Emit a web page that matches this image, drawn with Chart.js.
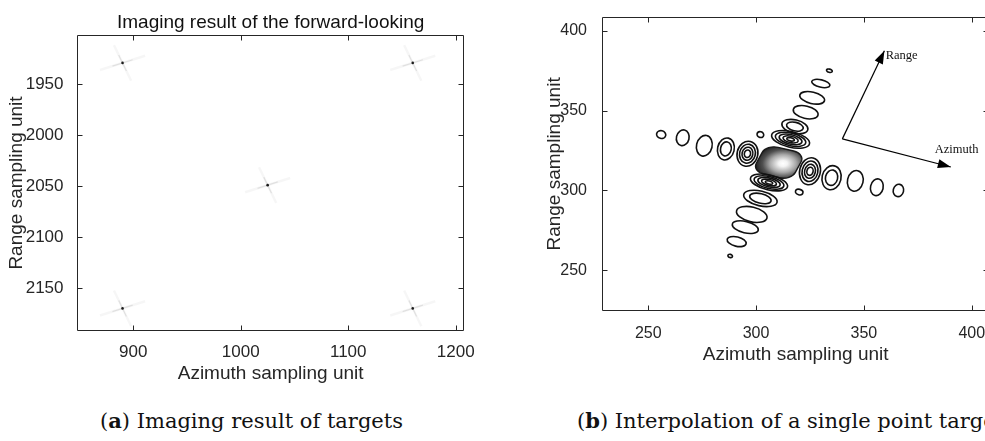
<!DOCTYPE html>
<html>
<head>
<meta charset="utf-8">
<script src="https://cdn.jsdelivr.net/npm/chart.js@4.4.1/dist/chart.umd.min.js"></script>
<style>
  html, body { margin: 0; padding: 0; background: #fff; overflow: hidden; }
  body { width: 985px; height: 441px; position: relative; }
  #left-wrap { position: absolute; left: 0; top: 0; width: 490px; height: 400px; }
  #right-wrap { position: absolute; left: 540px; top: 0; width: 470px; height: 400px; }
  .caption { position: absolute; top: 408px; font-family: 'DejaVu Serif', serif; font-size: 21px; color: #111; white-space: nowrap; }
</style>
</head>
<body>
<div id="left-wrap"><canvas id="left-chart" width="490" height="400"></canvas></div>
<div id="right-wrap"><canvas id="right-chart" width="470" height="400"></canvas></div>
<div class="caption" style="left:100px">(<b>a</b>) Imaging result of targets</div>
<div class="caption" style="left:577px">(<b>b</b>) Interpolation of a single point target</div>
<script>
// (a) point targets of the forward-looking scene
const targetAz = [890, 1160, 1025, 890, 1160];
const targetRg = [1929, 1929, 2049, 2170, 2170];
// half extent of the cross-shaped sidelobes (azimuth, range)
const rangeArm = [8, 17.5];
const azimuthArm = [21, -7];
const leftXTicks = [900, 1000, 1100, 1200];
const leftYTicks = [1950, 2000, 2050, 2100, 2150];

// (b) single target after interpolation
const mainLobe = [310.5, 317.5];
const mainHalf = [9.5, 9.0];
// directions of the two sidelobe lines in sampling units
const azimuthAxis = [110, -35];
const rangeAxis = [46, 116];
// sidelobe contours: centre, half width along the azimuth line / across it, number of rings
const lobeAz = [256, 266, 276, 286, 296, 325, 335, 346, 356, 366,
                334, 330, 326, 323, 318, 316, 306, 302, 298, 295, 291, 288,
                302, 320];
const lobeRg = [335, 333, 328, 326, 323, 312, 308, 306, 302, 300,
                375, 367, 358, 349, 340, 332, 305, 295, 285, 277, 268, 259,
                335, 299];
const lobeHalfAz = [2.2, 3.0, 3.7, 3.95, 4.9, 4.9, 4.5, 3.7, 3.0, 2.45,
                    1.4, 4.4, 6.0, 6.0, 6.3, 9.2, 9.0, 8.1, 7.4, 6.3, 4.6, 1.1,
                    1.6, 1.8];
const lobeHalfRg = [2.3, 4.7, 6.2, 6.6, 7.5, 8.1, 7.2, 6.2, 5.0, 3.7,
                    0.95, 2.2, 3.4, 3.7, 4.0, 4.7, 4.4, 4.4, 4.4, 3.4, 2.8, 0.95,
                    1.7, 1.65];
const lobeRings = [1, 1, 1, 2, 4, 4, 2, 1, 1, 1,
                   1, 1, 1, 1, 2, 5, 5, 2, 1, 1, 1, 1,
                   1, 1];
// direction arrows
const arrowNames = ['Range', 'Azimuth'];
const arrowFrom = [340, 332.3];
const arrowTipAz = [359.5, 390.3];
const arrowTipRg = [387.5, 314.7];
const arrowLabelAz = [360.1, 393.0];
const arrowLabelRg = [384.4, 325.3];
const rightXTicks = [250, 300, 350, 400];
const rightYTicks = [250, 300, 350, 400];

const axisColor = '#262626';
const sans = 'Liberation Sans';

// MATLAB style box with inward ticks
const framePlugin = {
    id: 'frame',
    afterDraw(chart) {
        const { ctx, chartArea: a, scales: { x, y } } = chart;
        const L = Math.round(a.left) + 0.5, R = Math.round(a.right) - 0.5;
        const T = Math.round(a.top) + 0.5, B = Math.round(a.bottom) - 0.5;
        ctx.save();
        ctx.strokeStyle = axisColor;
        ctx.lineWidth = 1;
        ctx.beginPath();
        ctx.rect(L, T, R - L, B - T);
        x.ticks.forEach(t => {
            const p = Math.round(x.getPixelForValue(t.value)) + 0.5;
            ctx.moveTo(p, B); ctx.lineTo(p, B - 5);
            ctx.moveTo(p, T); ctx.lineTo(p, T + 5);
        });
        y.ticks.forEach(t => {
            const p = Math.round(y.getPixelForValue(t.value)) + 0.5;
            ctx.moveTo(L, p); ctx.lineTo(L + 5, p);
            ctx.moveTo(R, p); ctx.lineTo(R - 5, p);
        });
        ctx.stroke();
        ctx.restore();
    }
};

function armDataset(arm, frac, color, width) {
    const pts = [];
    targetAz.forEach((az, i) => {
        pts.push({ x: az - arm[0] * frac, y: targetRg[i] - arm[1] * frac });
        pts.push({ x: az + arm[0] * frac, y: targetRg[i] + arm[1] * frac });
        pts.push({ x: az, y: null });
    });
    return {
        type: 'line', data: pts, borderColor: color, borderWidth: width,
        pointRadius: 0, spanGaps: false, fill: false
    };
}

function axisOptions(min, max, tickValues, tickSize, tickPad, titleText, titlePad, fitSize, reverse) {
    return {
        type: 'linear', min: min, max: max, reverse: !!reverse,
        grid: { display: false }, border: { display: false },
        afterBuildTicks: s => { s.ticks = tickValues.map(v => ({ value: v })); },
        afterFit: s => { if (s.isHorizontal()) s.height = fitSize; else s.width = fitSize; },
        ticks: {
            autoSkip: false, maxRotation: 0, padding: tickPad, color: axisColor,
            font: { family: sans, size: tickSize }, callback: v => String(v)
        },
        title: {
            display: true, text: titleText, color: axisColor,
            font: { family: sans, size: 19 }, padding: titlePad
        }
    };
}

new Chart(document.getElementById('left-chart'), {
    type: 'scatter',
    data: {
        datasets: [
            armDataset(rangeArm, 1, 'rgba(0,0,0,0.035)', 2.5),
            armDataset(azimuthArm, 1, 'rgba(0,0,0,0.035)', 2.5),
            armDataset(rangeArm, 0.45, 'rgba(0,0,0,0.09)', 1.2),
            armDataset(azimuthArm, 0.45, 'rgba(0,0,0,0.09)', 1.2),
            {
                data: targetAz.map((az, i) => ({ x: az, y: targetRg[i] })),
                pointRadius: 1.3, backgroundColor: '#222', borderWidth: 0
            }
        ]
    },
    options: {
        responsive: false,
        animation: false,
        layout: { padding: { left: 0, right: 26, top: 0, bottom: 0 } },
        plugins: {
            legend: { display: false },
            tooltip: { enabled: false },
            title: {
                display: true, text: 'Imaging result of the forward-looking', fullSize: false,
                color: '#111', font: { family: sans, size: 19, weight: 'normal' },
                padding: { top: 11.5, bottom: 0.7 }
            }
        },
        scales: {
            x: axisOptions(847.9, 1207.7, leftXTicks, 17, 3, 'Azimuth sampling unit', { bottom: 15.1 }, 69),
            y: axisOptions(1901.6, 2192.2, leftYTicks, 17, 5.8, 'Range sampling unit', { top: 5.6 }, 77.3, true)
        }
    },
    plugins: [framePlugin]
});

const ringSteps = { 1: [1], 2: [1, 0.64], 4: [1, 0.76, 0.52, 0.3], 5: [1, 0.8, 0.6, 0.4, 0.2] };

const contourPlugin = {
    id: 'contours',
    beforeDatasetsDraw(chart) {
        const { ctx, scales: { x, y } } = chart;
        const pixelAxis = (cx, cy, dir) => {
            const len = Math.hypot(dir[0], dir[1]);
            return [x.getPixelForValue(cx + dir[0] / len) - x.getPixelForValue(cx),
                    y.getPixelForValue(cy + dir[1] / len) - y.getPixelForValue(cy)];
        };
        ctx.save();

        // main lobe: dense contours seen as a shaded patch
        const mx = x.getPixelForValue(mainLobe[0]), my = y.getPixelForValue(mainLobe[1]);
        const mu = pixelAxis(mainLobe[0], mainLobe[1], azimuthAxis);
        const mv = pixelAxis(mainLobe[0], mainLobe[1], rangeAxis);
        ctx.save();
        ctx.transform(mu[0] * mainHalf[0], mu[1] * mainHalf[0], mv[0] * mainHalf[1], mv[1] * mainHalf[1], mx, my);
        ctx.beginPath();
        ctx.roundRect(-1, -1, 2, 2, 0.6);
        const g = ctx.createRadialGradient(0.22, 0, 0, 0.22, 0, 1.4);
        g.addColorStop(0, '#ffffff');
        g.addColorStop(0.15, '#f4f4f4');
        g.addColorStop(0.45, '#a8a8a8');
        g.addColorStop(0.7, '#505050');
        g.addColorStop(1, '#1a1a1a');
        ctx.fillStyle = g;
        ctx.fill();
        ctx.restore();
        ctx.lineWidth = 1.4;
        ctx.strokeStyle = '#1a1a1a';
        ctx.stroke();

        // sidelobes: ellipses aligned with the azimuth line
        ctx.strokeStyle = '#111';
        ctx.lineWidth = 1.6;
        lobeAz.forEach((az, i) => {
            const rg = lobeRg[i];
            const px = x.getPixelForValue(az), py = y.getPixelForValue(rg);
            const u = pixelAxis(az, rg, azimuthAxis);
            const v = pixelAxis(az, rg, rangeAxis);
            const ang = Math.atan2(u[1], u[0]);
            ringSteps[lobeRings[i]].forEach(s => {
                ctx.beginPath();
                ctx.ellipse(px, py, lobeHalfAz[i] * s * Math.hypot(u[0], u[1]),
                    lobeHalfRg[i] * s * Math.hypot(v[0], v[1]), ang, 0, Math.PI * 2);
                ctx.stroke();
            });
        });
        ctx.restore();
    },
    afterDatasetsDraw(chart) {
        const { ctx, scales: { x, y } } = chart;
        ctx.save();
        chart.data.datasets.forEach((ds, i) => {
            if (!ds.arrow) return;
            const pts = chart.getDatasetMeta(i).data;
            const a = pts[0], b = pts[pts.length - 1];
            const ang = Math.atan2(b.y - a.y, b.x - a.x);
            ctx.save();
            ctx.translate(b.x, b.y);
            ctx.rotate(ang);
            ctx.beginPath();
            ctx.moveTo(0, 0);
            ctx.lineTo(-13, -4.5);
            ctx.lineTo(-13, 4.5);
            ctx.closePath();
            ctx.fillStyle = '#000';
            ctx.fill();
            ctx.restore();
        });
        ctx.fillStyle = '#111';
        ctx.font = '12.5px "Liberation Serif"';
        ctx.textBaseline = 'middle';
        arrowNames.forEach((name, i) => {
            ctx.textAlign = i === 0 ? 'left' : 'center';
            ctx.fillText(name, x.getPixelForValue(arrowLabelAz[i]), y.getPixelForValue(arrowLabelRg[i]));
        });
        ctx.restore();
    }
};

new Chart(document.getElementById('right-chart'), {
    type: 'scatter',
    data: {
        datasets: arrowNames.map((name, i) => ({
            type: 'line',
            label: name,
            arrow: true,
            data: [{ x: arrowFrom[0], y: arrowFrom[1] }, { x: arrowTipAz[i], y: arrowTipRg[i] }],
            borderColor: '#000', borderWidth: 1.2, pointRadius: 0, fill: false
        }))
    },
    options: {
        responsive: false,
        animation: false,
        layout: { padding: { left: 0, right: 21, top: 15, bottom: 0 } },
        plugins: { legend: { display: false }, tooltip: { enabled: false } },
        scales: {
            x: axisOptions(228.7, 408, rightXTicks, 16, 4.5, 'Azimuth sampling unit', { bottom: 34.1 }, 89),
            y: axisOptions(224.5, 408.7, rightYTicks, 16, 7.3, 'Range sampling unit', { top: 3.1 }, 62.3)
        }
    },
    plugins: [contourPlugin, framePlugin]
});
</script>
</body>
</html>
